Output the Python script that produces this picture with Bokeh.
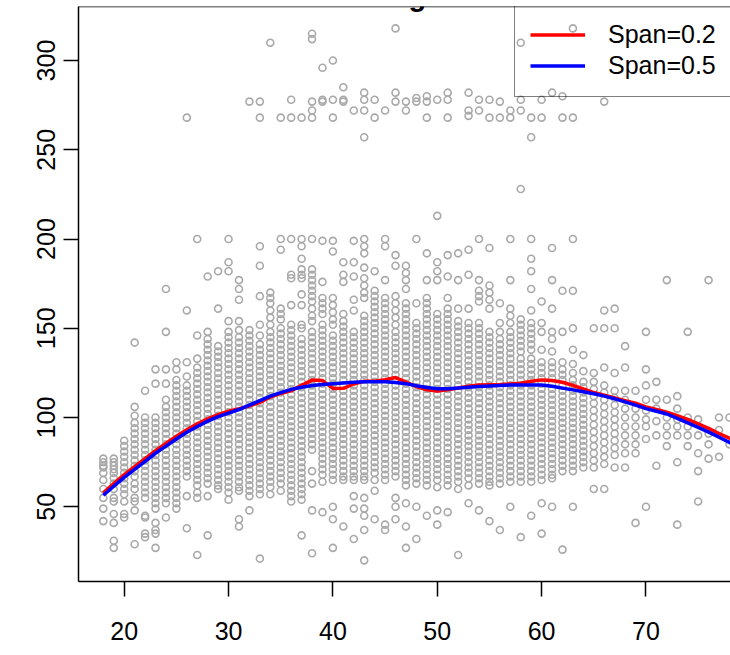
from bokeh.plotting import figure
from bokeh.models import (Range1d, FixedTicker, Span, Label, Legend, LegendItem,
                          ColumnDataSource)
from bokeh.embed import file_html
from bokeh.resources import INLINE

# ---------------- data ----------------
x_ticks = [20, 30, 40, 50, 60, 70, 80]
y_ticks = [50, 100, 150, 200, 250, 300]

w18 = [77, 75, 73, 72, 69, 65, 60, 55, 49, 42]
w19 = [77, 75, 73, 71, 69, 66, 63, 60, 55, 53, 46, 41, 31, 27]
w20 = [87, 84, 81, 78, 75, 72, 69, 66, 63, 60, 57, 53, 46, 44]
w21 = [142, 106, 101, 97, 94, 91, 88, 85, 82, 79, 76, 73, 70, 67, 63, 60, 55, 53, 48, 29]
w22 = [115, 100, 97, 94, 91, 88, 85, 82, 79, 76, 73, 70, 67, 64, 61, 58, 55, 45, 44, 35, 33]
w23 = [127, 119, 100, 97, 94, 91, 88, 85, 82, 79, 76, 73, 70, 67, 64, 61, 58, 55, 52, 49, 41, 37, 35, 27]
w24 = [172, 148, 127, 119, 110, 106, 103, 100, 97, 94, 91, 88, 85, 82, 79, 76, 73, 70, 67, 64, 61, 58, 55, 52, 44]
w25 = [131, 127, 121, 118, 115, 112, 109, 106, 103, 100, 97, 94, 91, 88, 85, 82, 79, 76, 73, 70, 67, 64, 61, 58, 55, 52, 49]
w26 = [268, 160, 131, 123, 118, 115, 112, 109, 106, 103, 100, 97, 94, 91, 88, 85, 82, 79, 76, 73, 70, 67, 56, 38]
w27 = [200, 146, 133, 128, 125, 122, 119, 116, 113, 110, 107, 104, 101, 98, 95, 92, 89, 86, 83, 80, 77, 74, 71, 68, 65, 62, 58, 55, 23]
w28 = [179, 148, 144, 141, 138, 135, 132, 129, 126, 123, 120, 117, 114, 111, 108, 105, 102, 99, 96, 93, 90, 87, 84, 81, 78, 75, 72, 69, 66, 63, 56, 34]
w29 = [182, 161, 140, 137, 134, 131, 128, 125, 122, 119, 116, 113, 110, 107, 104, 101, 98, 95, 92, 89, 86, 83, 80, 77, 74, 71, 68, 65, 62, 60]
w30 = [200, 187, 182, 154, 148, 145, 142, 139, 136, 133, 130, 127, 124, 121, 118, 115, 112, 109, 106, 103, 100, 97, 94, 91, 88, 85, 82, 79, 76, 73, 70, 67, 64, 61, 58, 54]
w31 = [177, 172, 166, 154, 149, 145, 142, 139, 136, 133, 130, 127, 124, 121, 118, 115, 112, 109, 106, 103, 100, 97, 94, 91, 88, 85, 82, 79, 76, 73, 70, 67, 64, 61, 59, 43, 39]
w32 = [277, 149, 146, 143, 140, 137, 134, 131, 128, 125, 122, 119, 116, 113, 110, 107, 104, 101, 98, 95, 92, 89, 86, 83, 80, 77, 74, 71, 68, 65, 62, 59, 56, 48]
w33 = [277, 268, 196, 185, 168, 152, 146, 141, 138, 135, 132, 129, 126, 123, 120, 117, 114, 111, 108, 105, 102, 99, 96, 93, 90, 87, 84, 81, 78, 75, 72, 69, 66, 63, 60, 57, 21]
w34 = [310, 170, 167, 164, 160, 156, 152, 148, 145, 142, 139, 136, 133, 130, 127, 124, 121, 118, 115, 112, 109, 106, 103, 100, 97, 94, 91, 88, 85, 82, 79, 76, 73, 70, 67, 64, 61, 57]
w35 = [268, 200, 194, 161, 158, 155, 150, 147, 144, 141, 138, 135, 132, 129, 126, 123, 120, 117, 114, 111, 108, 105, 102, 99, 96, 93, 90, 87, 84, 81, 78, 75, 72, 69, 66, 63, 59]
w36 = [278, 268, 200, 180, 178, 163, 152, 149, 146, 143, 140, 137, 134, 131, 128, 125, 122, 119, 116, 113, 110, 107, 104, 101, 98, 95, 92, 89, 86, 83, 80, 77, 74, 71, 68, 65, 62, 59, 56, 53]
w37 = [268, 200, 196, 189, 183, 180, 178, 169, 163, 152, 150, 144, 141, 138, 135, 132, 129, 126, 123, 120, 117, 114, 111, 108, 105, 102, 99, 96, 93, 90, 87, 84, 81, 78, 75, 72, 69, 66, 63, 60, 57, 54, 34]
w38 = [315, 312, 277, 272, 268, 200, 183, 180, 177, 174, 171, 168, 165, 161, 157, 154, 148, 145, 142, 139, 136, 133, 130, 127, 124, 121, 118, 115, 112, 109, 106, 103, 100, 97, 94, 91, 88, 85, 82, 70, 63, 48, 24]
w39 = [296, 278, 277, 199, 176, 167, 164, 161, 158, 152, 149, 146, 143, 140, 137, 134, 131, 128, 125, 122, 119, 116, 113, 110, 107, 104, 101, 98, 95, 92, 89, 86, 83, 80, 77, 74, 71, 68, 64, 47]
w40 = [300, 278, 268, 199, 193, 167, 163, 159, 155, 152, 146, 143, 140, 137, 134, 131, 128, 125, 122, 119, 116, 113, 110, 107, 104, 101, 98, 95, 92, 89, 86, 83, 80, 77, 74, 71, 68, 65, 50, 43, 27]
w41 = [285, 278, 277, 187, 180, 176, 158, 154, 151, 148, 145, 142, 139, 136, 133, 130, 127, 124, 121, 118, 115, 112, 109, 106, 103, 100, 97, 94, 91, 88, 85, 82, 79, 76, 73, 70, 67, 65, 39]
w42 = [272, 199, 187, 179, 166, 160, 148, 145, 142, 139, 136, 133, 130, 127, 124, 121, 118, 115, 112, 109, 106, 103, 100, 97, 94, 91, 88, 85, 82, 79, 76, 73, 70, 67, 65, 56, 49, 32]
w43 = [282, 278, 272, 257, 200, 196, 192, 184, 178, 174, 170, 167, 157, 154, 151, 148, 145, 142, 139, 136, 133, 130, 127, 124, 121, 118, 115, 112, 109, 106, 103, 100, 97, 94, 91, 88, 85, 82, 79, 76, 73, 70, 67, 65, 55, 49, 45, 37, 20]
w44 = [278, 268, 182, 171, 168, 165, 162, 159, 156, 153, 150, 147, 144, 141, 138, 135, 132, 129, 126, 123, 120, 117, 114, 111, 108, 105, 102, 99, 96, 93, 90, 87, 84, 81, 78, 75, 72, 69, 65, 59, 43]
w45 = [272, 200, 196, 177, 167, 164, 161, 158, 155, 152, 149, 146, 143, 140, 137, 134, 131, 128, 125, 122, 119, 116, 113, 110, 107, 104, 101, 98, 95, 92, 89, 86, 83, 80, 77, 74, 71, 68, 65, 40, 37]
w46 = [318, 282, 277, 191, 185, 168, 164, 160, 156, 152, 148, 145, 142, 139, 136, 133, 130, 127, 124, 121, 118, 115, 112, 109, 106, 103, 100, 97, 94, 91, 88, 85, 82, 79, 76, 73, 70, 67, 55, 50, 43]
w47 = [277, 272, 185, 181, 177, 172, 164, 161, 158, 155, 152, 149, 146, 143, 140, 137, 134, 131, 128, 125, 122, 119, 116, 113, 110, 107, 104, 101, 98, 95, 92, 89, 86, 83, 80, 77, 74, 71, 68, 65, 62, 52, 39, 27]
w48 = [279, 277, 200, 164, 153, 150, 147, 144, 141, 138, 135, 132, 129, 126, 123, 120, 117, 114, 111, 108, 105, 102, 99, 96, 93, 90, 87, 84, 81, 78, 75, 72, 69, 66, 63, 50, 32]
w49 = [280, 277, 268, 192, 177, 167, 164, 161, 158, 155, 152, 149, 146, 143, 140, 137, 134, 131, 128, 125, 122, 119, 116, 113, 110, 107, 104, 101, 98, 95, 92, 89, 86, 83, 80, 77, 74, 71, 68, 65, 62, 45]
w50 = [278, 213, 187, 182, 177, 158, 155, 152, 149, 146, 143, 140, 137, 134, 131, 128, 125, 122, 119, 116, 113, 110, 107, 104, 101, 98, 95, 92, 89, 86, 83, 80, 77, 74, 71, 68, 65, 61, 48, 40]
w51 = [282, 278, 268, 191, 179, 167, 161, 158, 155, 152, 149, 146, 143, 140, 137, 134, 131, 128, 125, 122, 119, 116, 113, 110, 107, 104, 101, 98, 95, 92, 89, 86, 83, 80, 77, 74, 71, 68, 65, 62, 47]
w52 = [192, 177, 161, 154, 151, 148, 145, 142, 139, 136, 133, 130, 127, 124, 121, 118, 115, 112, 109, 106, 103, 100, 97, 94, 91, 88, 85, 82, 79, 76, 73, 70, 67, 64, 60, 23]
w53 = [282, 272, 269, 194, 180, 161, 153, 150, 147, 144, 141, 138, 135, 132, 129, 126, 123, 120, 117, 114, 111, 108, 105, 102, 99, 96, 93, 90, 87, 84, 81, 78, 75, 72, 69, 66, 62, 52]
w54 = [278, 272, 200, 177, 171, 168, 165, 153, 150, 147, 144, 141, 138, 135, 132, 129, 126, 123, 120, 117, 114, 111, 108, 105, 102, 99, 96, 93, 90, 87, 84, 81, 78, 75, 72, 69, 66, 63, 48]
w55 = [278, 268, 195, 174, 170, 166, 161, 148, 145, 142, 139, 136, 133, 130, 127, 124, 121, 118, 115, 112, 109, 106, 103, 100, 97, 94, 91, 88, 85, 82, 79, 76, 73, 70, 67, 64, 62, 42]
w56 = [277, 268, 164, 153, 148, 144, 141, 138, 135, 132, 129, 126, 123, 120, 117, 114, 111, 108, 105, 102, 99, 96, 93, 90, 87, 84, 81, 78, 75, 72, 69, 66, 63, 37]
w57 = [272, 268, 200, 177, 161, 157, 153, 148, 145, 142, 139, 136, 133, 130, 127, 124, 121, 118, 115, 112, 109, 106, 103, 100, 97, 94, 91, 88, 85, 82, 79, 76, 73, 70, 67, 64, 50]
w58 = [310, 278, 272, 228, 155, 152, 149, 146, 143, 140, 137, 133, 130, 127, 124, 121, 118, 115, 112, 109, 106, 103, 100, 97, 94, 91, 88, 85, 82, 79, 76, 73, 70, 67, 64, 33]
w59 = [268, 257, 200, 189, 182, 172, 160, 153, 150, 147, 144, 141, 138, 133, 130, 127, 124, 121, 118, 115, 112, 109, 106, 103, 100, 97, 94, 91, 88, 85, 82, 79, 76, 73, 70, 67, 64, 45]
w60 = [278, 268, 165, 153, 148, 138, 131, 128, 125, 122, 119, 116, 113, 110, 107, 104, 101, 98, 95, 92, 89, 86, 83, 80, 77, 74, 71, 68, 65, 52, 35]
w61 = [282, 195, 177, 161, 148, 144, 137, 131, 128, 125, 122, 119, 116, 113, 110, 107, 104, 101, 98, 95, 92, 89, 86, 83, 80, 77, 74, 71, 68, 66, 50]
w62 = [280, 268, 171, 148, 131, 127, 124, 121, 118, 115, 112, 109, 106, 103, 100, 97, 94, 91, 88, 85, 82, 79, 76, 73, 70, 26]
w63 = [318, 268, 200, 171, 150, 138, 130, 125, 121, 118, 115, 112, 109, 106, 103, 100, 97, 94, 91, 88, 85, 82, 79, 76, 73, 70, 50]
w64 = [135, 126, 120, 117, 114, 111, 108, 105, 102, 99, 96, 93, 90, 87, 84, 81, 78, 75, 72]
w65 = [150, 125, 120, 116, 112, 108, 104, 100, 96, 92, 88, 84, 80, 76, 72, 60]
w66 = [277, 160, 150, 128, 118, 114, 110, 106, 102, 98, 94, 90, 86, 82, 78, 74, 60]
w67 = [161, 150, 125, 115, 111, 107, 103, 99, 95, 91, 87, 83, 79, 72]
w68 = [140, 128, 115, 110, 105, 100, 95, 90, 85, 80, 72]
w69 = [115, 105, 100, 95, 90, 85, 80, 41]
w70 = [148, 127, 118, 110, 104, 99, 95, 88, 50]
w71 = [120, 110, 105, 98, 90, 73]
w72 = [177, 110, 100, 95, 90, 84]
w73 = [112, 105, 99, 95, 90, 75, 40]
w74 = [148, 100, 95, 90, 84]
w75 = [99, 90, 80, 70, 53]
w76 = [177, 91, 85, 77]
w77 = [100, 93, 78]
w78 = [100, 85]

column_ages = list(range(18, 79))
column_wages = [w18, w19, w20, w21, w22, w23, w24, w25, w26, w27, w28, w29, w30,
                w31, w32, w33, w34, w35, w36, w37, w38, w39, w40, w41, w42, w43,
                w44, w45, w46, w47, w48, w49, w50, w51, w52, w53, w54, w55, w56,
                w57, w58, w59, w60, w61, w62, w63, w64, w65, w66, w67, w68, w69,
                w70, w71, w72, w73, w74, w75, w76, w77, w78]

fit_age = list(range(18, 81))
fit_span02 = [57.8, 63, 68, 72.5, 77, 81.5, 85.5, 89.5, 93.2, 96.5, 99.3, 101.6, 103.6,
              105, 106.5, 108.5, 111.5, 113.5, 115.1, 118, 121, 120.7, 116.3, 116.4,
              118.8, 120.4, 120.4, 121.2, 122.4, 119.8, 117.3, 115.5, 114.8, 115.5,
              116.6, 117.6, 118.3, 118.4, 118.5, 118.8, 119.2, 120.3, 121.1, 120.7,
              119.8, 118, 116, 114, 112.5, 111, 109.5, 108, 106, 104.5, 103, 101, 99,
              96.5, 94, 91, 88.5, 86, 83]
fit_span05 = [56.5, 61.5, 66.5, 71, 75.5, 80, 84, 88, 91.8, 95, 98, 100.5, 102.5,
              104.5, 107, 109.5, 112, 114, 115.8, 117, 118, 118.5, 119, 119.4, 119.8,
              120, 120.1, 120, 119.7, 119, 117.8, 116.8, 116.2, 116.2, 116.5, 117,
              117.4, 117.7, 118, 118.2, 118.3, 118.3, 118.2, 117.5, 116.5, 115.5,
              114.5, 113.3, 112, 110.5, 108.8, 107, 105, 103.5, 102, 99.5, 97, 94.5,
              91.8, 89, 86, 83, 80]

# ---------------- build ----------------
pts_age, pts_wage = [], []
for a, ws in zip(column_ages, column_wages):
    pts_age.extend([a] * len(ws))
    pts_wage.extend(ws)
src = ColumnDataSource(dict(age=pts_age, wage=pts_wage))

FONT = "Liberation Sans"

p = figure(width=730, height=655, x_range=Range1d(15.62, 78.10),
           y_range=Range1d(8.16, 330.27), output_backend="svg",
           toolbar_location=None, title=None,
           min_border_left=78, min_border_right=0, min_border_top=6,
           min_border_bottom=74)
p.xgrid.visible = False
p.ygrid.visible = False
p.outline_line_color = None
p.background_fill_color = "white"
p.border_fill_color = "white"

p.xaxis.ticker = FixedTicker(ticks=x_ticks)
p.yaxis.ticker = FixedTicker(ticks=y_ticks)
for ax in (p.xaxis, p.yaxis):
    ax.axis_line_color = "black"
    ax.axis_line_width = 1.5
    ax.major_tick_line_color = "black"
    ax.major_tick_line_width = 1.5
    ax.major_tick_out = 15
    ax.major_tick_in = 0
    ax.minor_tick_out = 0
    ax.minor_tick_in = 0
    ax.major_label_text_font = FONT
    ax.major_label_text_font_size = "25px"
    ax.major_label_text_color = "black"
p.xaxis.major_label_standoff = 25
p.yaxis.major_label_standoff = 8
p.yaxis.major_label_orientation = "vertical"

p.add_layout(Span(location=330.27, dimension="width", line_color="black",
                  line_width=1.5))

p.scatter(x="age", y="wage", source=src, marker="circle", size=7,
          fill_color=None, line_color="#A9A9A9", line_width=1.6)

r_red = p.line(fit_age, fit_span02, line_color="#FF0000", line_width=3.5)
r_blue = p.line(fit_age, fit_span05, line_color="#0000FF", line_width=3.5)

legend = Legend(items=[LegendItem(label="Span=0.2", renderers=[r_red]),
                       LegendItem(label="Span=0.5", renderers=[r_blue])],
                location=(436, 484), padding=15, spacing=0, margin=0,
                glyph_width=55, glyph_height=31, label_height=31,
                label_standoff=23, label_text_font=FONT,
                label_text_font_size="25px", label_text_color="black",
                border_line_color="black", border_line_width=1.5,
                background_fill_alpha=0)
p.add_layout(legend)

p.add_layout(Label(x=330, y=586, x_units="screen", y_units="screen",
                   text="Local Regression", text_font=FONT,
                   text_font_style="bold", text_font_size="29px",
                   text_align="center", text_baseline="alphabetic",
                   text_color="black"))

open("out.html", "w").write(file_html(p, INLINE))
